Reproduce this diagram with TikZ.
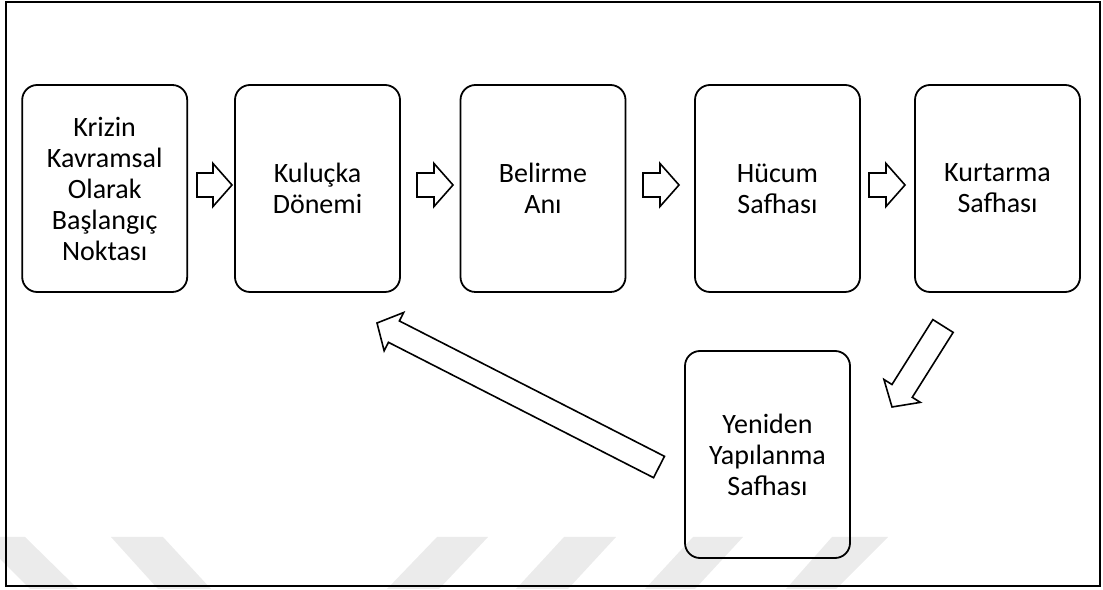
\documentclass[tikz,border=0pt]{standalone}
\usepackage{fontspec}
\setmainfont{Carlito}
\usetikzlibrary{calc}
\tikzset{
  box/.style={draw, line width=1.8pt, rounded corners=15pt, minimum width=165pt, minimum height=207pt,
    align=center, font=\fontsize{28}{31}\selectfont, inner sep=0pt},
  blk/.style={draw, line width=1.6pt, fill=white, line join=miter},
  wm/.style={fill=black!8, draw=none},
  outerframe/.style={draw, line width=2pt}
}
\newcommand{\blockarrow}[2]{%
  \coordinate (hb) at ($(#2)!19pt!(#1)$);
  \draw[blk] ($(#1)!12pt!-90:(#2)$) -- ($(hb)!12pt!-90:(#2)$) -- ($(hb)!21.5pt!-90:(#2)$) -- (#2)
    -- ($(hb)!21.5pt!90:(#2)$) -- ($(hb)!12pt!90:(#2)$) -- ($(#1)!12pt!90:(#2)$) -- cycle;}
\begin{document}
\begin{tikzpicture}[x=1pt, y=1pt]
\useasboundingbox (0,0) rectangle (1103,589);
% watermark
\fill[wm] (-22,52) -- (25,52) -- (78,0) -- (30,0) -- cycle;
\fill[wm] (111,52) -- (163,52) -- (211,0) -- (158,0) -- cycle;
\fill[wm] (437,52) -- (488,52) -- (439,0) -- (387,0) -- cycle;
\fill[wm] (564,52) -- (616,52) -- (568,0) -- (516,0) -- cycle;
\fill[wm] (693,52) -- (743,52) -- (695,0) -- (645,0) -- cycle;
\fill[wm] (832,52) -- (888,52) -- (836,0) -- (786,0) -- cycle;
% frame
\draw[outerframe] (6,3) rectangle (1100,587);
% boxes
\node[box] (b1) at (104.7,400.5) {Krizin\\Kavramsal\\Olarak\\Başlangıç\\Noktası};
\node[box] (b2) at (317.5,400.5) {Kuluçka\\Dönemi};
\node[box] (b3) at (543,400.5) {Belirme\\Anı};
\node[box] (b4) at (777.5,400.5) {Hücum\\Safhası};
\node[box] (b5) at (997.5,400.5) {Kurtarma\\Safhası};
\node[box] (b6) at (767.5,134.5) {Yeniden\\Yapılanma\\Safhası};
% arrow end points
\coordinate (a1s) at (197,404); \coordinate (a1e) at (232,404);
\coordinate (a2s) at (417,404); \coordinate (a2e) at (453,404);
\coordinate (a3s) at (643,404); \coordinate (a3e) at (679,404);
\coordinate (a4s) at (869,404); \coordinate (a4e) at (905,404);
\coordinate (a5s) at (943,263); \coordinate (a5e) at (892,182);
\coordinate (a6s) at (659,122); \coordinate (a6e) at (377,266);
\blockarrow{a1s}{a1e}
\blockarrow{a2s}{a2e}
\blockarrow{a3s}{a3e}
\blockarrow{a4s}{a4e}
\blockarrow{a5s}{a5e}
\blockarrow{a6s}{a6e}
\end{tikzpicture}
\end{document}
